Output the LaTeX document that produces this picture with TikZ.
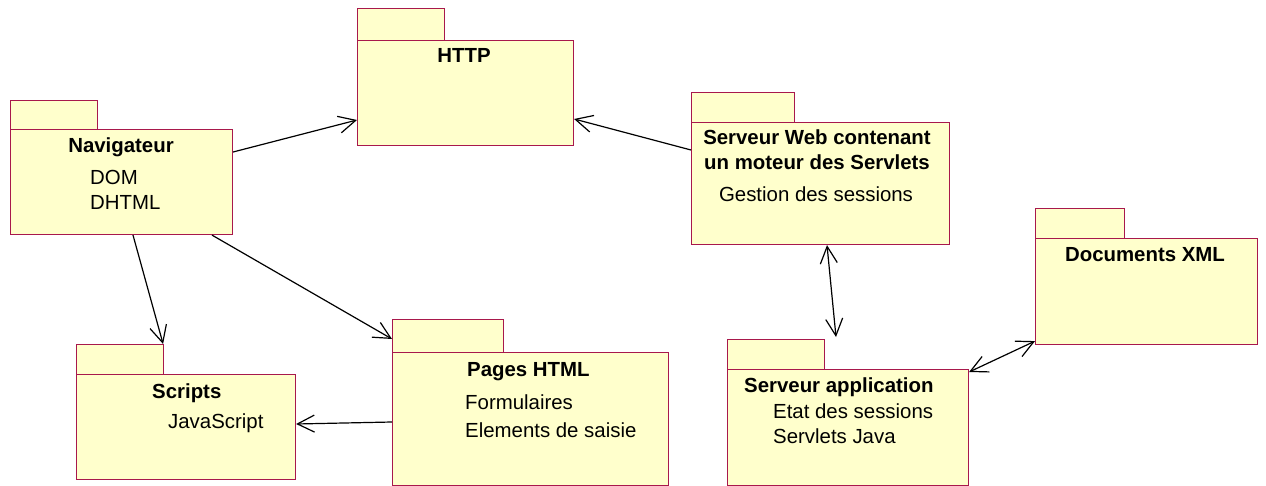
\documentclass[tikz,border=0pt]{standalone}
\usepackage{fontspec}
\setmainfont{Liberation Sans}
\usetikzlibrary{arrows.meta,calc}
\definecolor{pkgfill}{HTML}{FFFFCC}
\definecolor{pkgline}{HTML}{A8184C}
\tikzset{
  pkgbox/.style={draw=pkgline, fill=pkgfill, line width=1.1pt, rectangle, inner sep=0pt, anchor=north west},
  ttl/.style={font=\fontsize{20.4}{25}\selectfont\bfseries, inner sep=0pt},
  txt/.style={font=\fontsize{20.4}{25}\selectfont, inner sep=0pt, anchor=base west},
  conn/.style={draw=black, line width=1.2pt, -{Straight Barb[length=17pt,width=17pt,line width=1.2pt]}},
  biconn/.style={draw=black, line width=1.2pt, {Straight Barb[length=17pt,width=17pt,line width=1.2pt]}-{Straight Barb[length=17pt,width=17pt,line width=1.2pt]}}
}
\newcommand{\pkg}[5]{% name, x, y, w, h ; tab given separately
  \node[pkgbox, minimum width=#4pt, minimum height=#5pt] (#1) at (#2,#3) {};}
\newcommand{\pkgtab}[5]{%
  \node[pkgbox, minimum width=#4pt, minimum height=#5pt] (#1) at (#2,#3) {};}
\begin{document}
\begin{tikzpicture}[x=1pt,y=-1pt]
\useasboundingbox (0,0) rectangle (1266,486);
% Navigateur
\pkgtab{navtab}{10}{100}{87}{29}
\pkg{nav}{10}{129}{222}{105}
\node[ttl, anchor=base] (navt) at (121,153) {Navigateur};
\node[txt] (nav1) at (90,185) {DOM};
\node[txt] (nav2) at (90,210) {DHTML};
% HTTP
\pkgtab{httptab}{357}{8}{87}{32}
\pkg{http}{357}{40}{216}{105}
\node[ttl, anchor=base] (httpt) at (464,63) {HTTP};
% Serveur Web
\pkgtab{webtab}{691}{92}{103}{30}
\pkg{web}{691}{122}{258}{122}
\node[ttl, anchor=base] (webt1) at (817,145) {Serveur Web contenant};
\node[ttl, anchor=base] (webt2) at (817,170) {un moteur des Servlets};
\node[txt, anchor=base] (web1) at (816,202) {Gestion des sessions};
% Documents XML
\pkgtab{xmltab}{1035}{208}{89}{30}
\pkg{xml}{1035}{238}{222}{106}
\node[ttl, anchor=base] (xmlt) at (1145,262) {Documents XML};
% Scripts
\pkgtab{scrtab}{76}{344}{87}{30}
\pkg{scr}{76}{374}{219}{105}
\node[ttl, anchor=base west] (scrt) at (152,398) {Scripts};
\node[txt] (scr1) at (168,428) {JavaScript};
% Pages HTML
\pkgtab{pagestab}{392}{319}{111}{33}
\pkg{pages}{392}{352}{276}{133}
\node[ttl, anchor=base west] (pagest) at (467,376) {Pages HTML};
\node[txt] (pages1) at (465,409) {Formulaires};
\node[txt] (pages2) at (465,437) {Elements de saisie};
% Serveur application
\pkgtab{apptab}{727}{339}{97}{30}
\pkg{app}{727}{369}{241}{116}
\node[ttl, anchor=base west] (appt) at (744,392) {Serveur application};
\node[txt] (app1) at (773,418) {Etat des sessions};
\node[txt] (app2) at (773,443) {Servlets Java};
% connectors
\draw[conn] ($(nav.north east)+(0,23)$) -- ($(http.north west)+(0,80)$);
\draw[conn] ($(web.north west)+(0,28)$) -- ($(http.north east)+(0,79)$);
\draw[conn] ($(nav.south west)+(123,0)$) -- ($(scrtab.north east)+(-1,0)$);
\draw[conn] ($(nav.south west)+(202,0)$) -- ($(pagestab.north west)+(0,20)$);
\draw[conn] ($(pages.north west)+(0,70)$) -- ($(scr.north east)+(0,50)$);
\draw[biconn] ($(web.south west)+(136,0)$) -- ($(apptab.north west)+(109,-2)$);
\draw[biconn] ($(app.north east)+(0,3)$) -- ($(xml.south west)+(0,-4)$);
\end{tikzpicture}
\end{document}
